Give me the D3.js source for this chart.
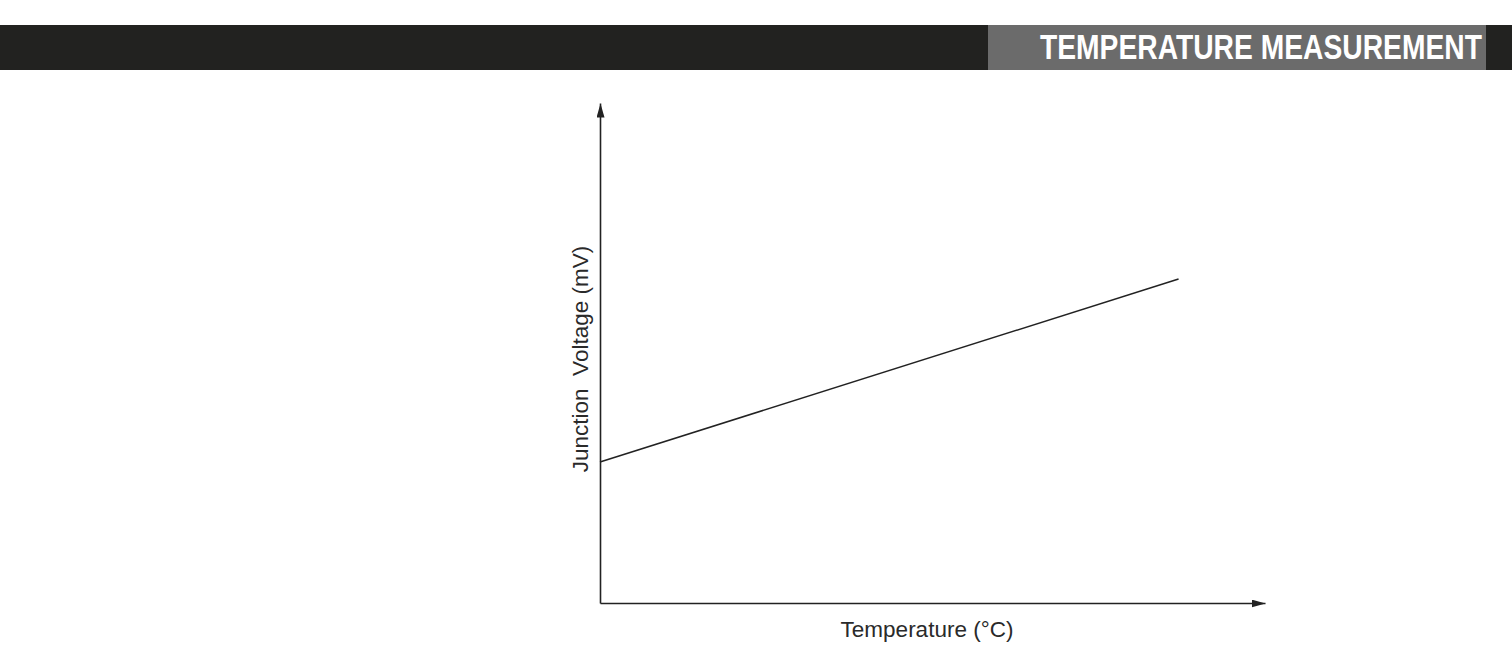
<!DOCTYPE html>
<html><head><meta charset="utf-8">
<script src="https://cdn.jsdelivr.net/npm/d3@7"></script>
<style>html,body{margin:0;padding:0;background:#fff;}svg{display:block;}</style>
</head><body>
<script>
const title = "TEMPERATURE MEASUREMENT";
const xLabel = "Temperature (°C)";
const yLabel = "Junction  Voltage (mV)";
const temperature = [0, 87];
const voltage = [28.2, 64.8];

const W = 1512, H = 652;
const svg = d3.select("body").append("svg").attr("width", W).attr("height", H);

// header band
svg.append("rect").attr("x", 0).attr("y", 25).attr("width", W).attr("height", 45).attr("fill", "#222220");
svg.append("rect").attr("x", 988).attr("y", 25).attr("width", 498).attr("height", 45).attr("fill", "#6b6b6b");
const tg = svg.append("g");
const tt = tg.append("text").attr("x", 0).attr("y", 0)
  .attr("font-family", "'Liberation Sans',Arial,sans-serif")
  .attr("font-weight", "bold").attr("font-size", 35).attr("fill", "#fff")
  .text(title);
const natural = tt.node().getComputedTextLength();
tg.attr("transform", `translate(1040,59) scale(${442 / natural},1)`);

const x = d3.scaleLinear().domain([0, 100]).range([600, 1265]);
const y = d3.scaleLinear().domain([0, 100]).range([603, 103]);

const defs = svg.append("defs");
defs.append("marker").attr("id", "arr").attr("viewBox", "0 0 14 8")
  .attr("refX", 14).attr("refY", 4).attr("markerWidth", 14).attr("markerHeight", 8)
  .attr("markerUnits", "userSpaceOnUse").attr("orient", "auto")
  .append("path").attr("d", "M0,0 L14,4 L0,8 Z").attr("fill", "#222");

// axes
const xAxis = d3.axisBottom(x).tickValues([]).tickSizeOuter(0);
const yAxis = d3.axisLeft(y).tickValues([]).tickSizeOuter(0);
const gx = svg.append("g").attr("transform", `translate(0,${y(0)})`).call(xAxis);
const gy = svg.append("g").attr("transform", `translate(${x(0)},0)`).call(yAxis);
[gx, gy].forEach(g => g.select(".domain").attr("stroke", "#222").attr("stroke-width", 1.6).attr("marker-end", "url(#arr)"));

// data line
const pts = temperature.map((t, i) => [t, voltage[i]]);
svg.append("path").datum(pts)
  .attr("d", d3.line().x(d => x(d[0])).y(d => y(d[1])))
  .attr("fill", "none").attr("stroke", "#222").attr("stroke-width", 1.5);

// labels
svg.append("text").attr("x", 927).attr("y", 637).attr("text-anchor", "middle")
  .attr("font-family", "'Liberation Sans',Arial,sans-serif").attr("font-size", 22.5).attr("fill", "#2a2a2a")
  .text(xLabel);
svg.append("text").attr("transform", "translate(588,359) rotate(-90)").attr("text-anchor", "middle")
  .attr("font-family", "'Liberation Sans',Arial,sans-serif").attr("font-size", 22.5).attr("fill", "#2a2a2a")
  .style("white-space", "pre")
  .text(yLabel);
</script>
</body></html>
